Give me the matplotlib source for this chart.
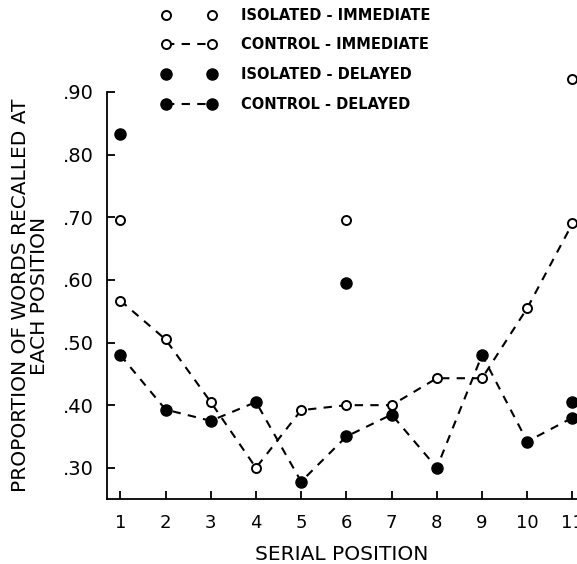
import matplotlib
matplotlib.use("Agg")
from matplotlib import pyplot as plt

#--- Data
positions = [1, 2, 3, 4, 5, 6, 7, 8, 9, 10, 11]

iso_imm_pos = [1, 6, 11]
iso_imm_val = [0.695, 0.695, 0.92]

ctrl_imm_val = [0.567, 0.505, 0.405, 0.30, 0.392, 0.40, 0.40, 0.443, 0.443, 0.555, 0.69]

iso_del_pos = [1, 6, 11]
iso_del_val = [0.833, 0.595, 0.405]

ctrl_del_val = [0.48, 0.393, 0.375, 0.405, 0.278, 0.35, 0.385, 0.30, 0.48, 0.342, 0.38]

y_ticks = [0.30, 0.40, 0.50, 0.60, 0.70, 0.80, 0.90]
y_tick_labels = [".30", ".40", ".50", ".60", ".70", ".80", ".90"]
x_tick_labels = ["1", "2", "3", "4", "5", "6", "7", "8", "9", "10", "11"]

plt.rcParams['font.family'] = ['DejaVu Sans']

fig = plt.figure(figsize=(5.77, 5.64), dpi=100)
ax = fig.add_axes([0.185, 0.115, 0.815, 0.722])

dash = (0, (4, 3.5))
lw = 1.5
ms_open = 6.5
ms_fill = 8

#--- Plot the four series
l1, = ax.plot(iso_imm_pos, iso_imm_val, linestyle='none', marker='o', markersize=ms_open,
              markerfacecolor='white', markeredgecolor='black', markeredgewidth=1.4,
              clip_on=False, label='ISOLATED - IMMEDIATE', zorder=4)
l2, = ax.plot(positions, ctrl_imm_val, linestyle=dash, color='black', linewidth=lw,
              marker='o', markersize=ms_open, markerfacecolor='white',
              markeredgecolor='black', markeredgewidth=1.4,
              clip_on=False, label='CONTROL - IMMEDIATE', zorder=3)
l3, = ax.plot(iso_del_pos, iso_del_val, linestyle='none', marker='o', markersize=ms_fill,
              color='black', clip_on=False, label='ISOLATED - DELAYED', zorder=4)
l4, = ax.plot(positions, ctrl_del_val, linestyle=dash, color='black', linewidth=lw,
              marker='o', markersize=ms_fill, clip_on=False,
              label='CONTROL - DELAYED', zorder=3)

ax.set_xlim(0.7, 11.1)
ax.set_ylim(0.25, 0.90)
ax.set_xticks(positions)
ax.set_xticklabels(x_tick_labels, fontsize=13)
ax.set_yticks(y_ticks)
ax.set_yticklabels(y_tick_labels, fontsize=14)

ax.spines['top'].set_visible(False)
ax.spines['right'].set_visible(False)
ax.spines['left'].set_linewidth(1.3)
ax.spines['bottom'].set_linewidth(1.3)
ax.tick_params(direction='in', length=6, width=1.3)
ax.tick_params(axis='y', pad=9)
ax.tick_params(axis='x', pad=11)

ax.set_xlabel("SERIAL POSITION", fontsize=14.5, labelpad=9)
ax.set_ylabel("PROPORTION OF WORDS RECALLED AT\nEACH POSITION", fontsize=14.5,
              labelpad=10, linespacing=1.05)

#--- Legend sits above the plot, partly overlapping the top of the axes
leg = ax.legend(handles=[l1, l2, l3, l4], loc='upper left',
                bbox_to_anchor=(0.28, 0.986), bbox_transform=fig.transFigure,
                frameon=False, numpoints=2, handlelength=3.75, handletextpad=1.7,
                labelspacing=1.0, borderpad=0, borderaxespad=0,
                prop={'size': 10.5, 'weight': 'bold'})

fig.savefig("out.png", dpi=100)
